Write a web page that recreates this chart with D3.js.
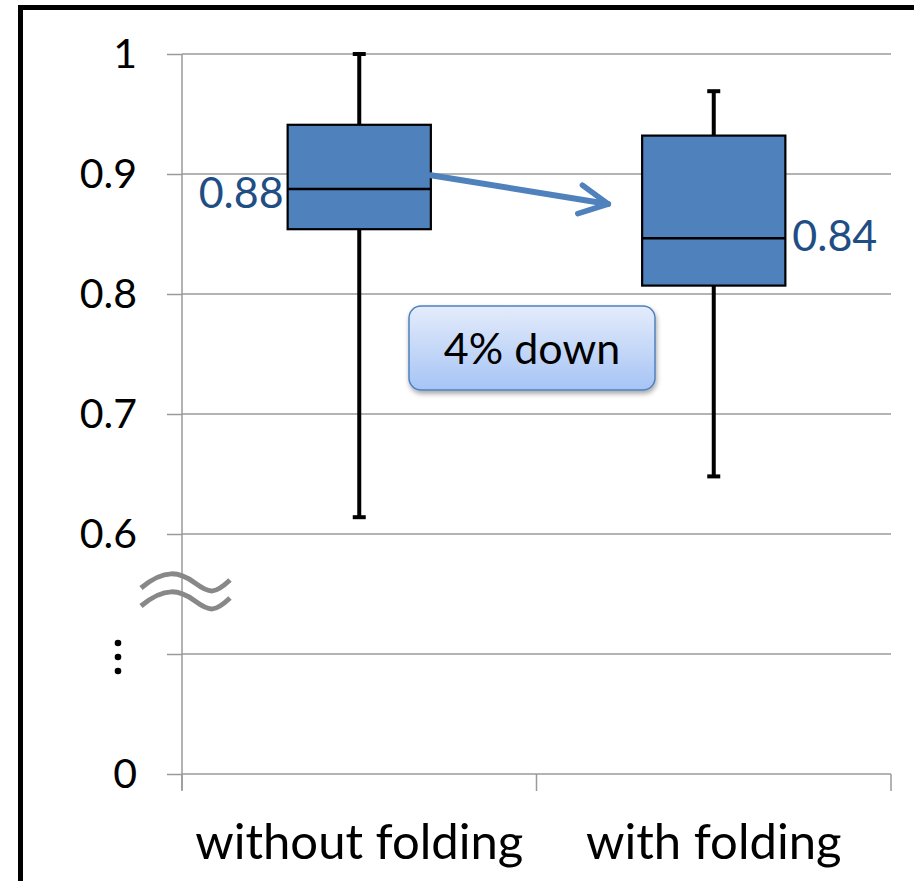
<!DOCTYPE html>
<html><head><meta charset="utf-8">
<script src="https://cdn.jsdelivr.net/npm/d3@7"></script>
<style>
html,body{margin:0;padding:0;background:#fff;}
svg{display:block;font-family:Lato,"Open Sans",sans-serif;}
</style></head>
<body>
<svg id="chart" width="914" height="881"></svg>
<script>
// ---- data ----
const categories = ["without folding", "with folding"];
const whiskerLow  = [0.614, 0.648];
const q1          = [0.854, 0.807];
const median      = [0.8875, 0.8465];
const q3          = [0.941, 0.932];
const whiskerHigh = [1.0, 0.969];
const medianLabels = ["0.88", "0.84"];
const tickValues = [0.4, 0.5, 0.6, 0.7, 0.8, 0.9, 1.0];
const tickLabels = ["0", "", "0.6", "0.7", "0.8", "0.9", "1"];
const calloutText = "4% down";
const arrowFrom = 0.899, arrowTo = 0.875;

const svg = d3.select("#chart");
const blue = "#4f81bd", darkBlue = "#1f4e85";

// frame
svg.append("rect").attr("x", 20.5).attr("y", 7.5).attr("width", 930).attr("height", 900)
  .attr("fill", "#fff").attr("stroke", "#000").attr("stroke-width", 5);

const x = d3.scaleBand().domain(categories).range([182, 891]).padding(0);
const y = d3.scaleLinear().domain([0.4, 1.0]).range([774, 54]);

const defs = svg.append("defs");
const grad = defs.append("linearGradient").attr("id", "cg").attr("x1", 0).attr("y1", 0).attr("x2", 0).attr("y2", 1);
grad.append("stop").attr("offset", "0%").attr("stop-color", "#e4ecfb");
grad.append("stop").attr("offset", "100%").attr("stop-color", "#a6c4f5");
const filt = defs.append("filter").attr("id", "sh").attr("x", "-10%").attr("y", "-10%").attr("width", "130%").attr("height", "140%");
filt.append("feDropShadow").attr("dx", 1).attr("dy", 3).attr("stdDeviation", 2.5).attr("flood-color", "#000").attr("flood-opacity", 0.35);
defs.append("marker").attr("id", "ah").attr("viewBox", "0 0 10 10").attr("refX", 8.6).attr("refY", 5)
  .attr("markerWidth", 7.5).attr("markerHeight", 7.5).attr("markerUnits", "strokeWidth").attr("orient", "auto")
  .append("path").attr("d", "M2.3,1.8 L8.6,5 L2.3,8.2").attr("fill", "none").attr("stroke", blue)
  .attr("stroke-width", 1.25).attr("stroke-linecap", "round").attr("stroke-linejoin", "round");

// y axis labels
const yAxis = d3.axisLeft(y).tickValues(tickValues).tickSize(15).tickFormat((d, i) => tickLabels[i]);
const gy = svg.append("g").attr("transform", "translate(182,0)").call(yAxis);
gy.attr("font-size", null).attr("font-family", null);
gy.select(".domain").remove();
gy.selectAll(".tick line").attr("stroke", "#9a9a9a").attr("stroke-width", 1.5);
gy.selectAll(".tick text").attr("x", -45).attr("dy", "0.33em").style("font-size", "41px").attr("fill", "#000");
// gridlines
svg.append("g").selectAll("line").data(tickValues).join("line")
  .attr("x1", 182).attr("x2", 891).attr("y1", d => y(d)).attr("y2", d => y(d))
  .attr("stroke", "#9a9a9a").attr("stroke-width", 1.5);
svg.append("line").attr("x1", 182).attr("x2", 182).attr("y1", y(1.0)).attr("y2", y(0.4) + 16)
  .attr("stroke", "#9a9a9a").attr("stroke-width", 1.5);

// x axis ticks + labels
const xt = [182, ...categories.map(c => x(c) + x.bandwidth())];
svg.append("g").selectAll("line").data(xt).join("line")
  .attr("x1", d => d).attr("x2", d => d).attr("y1", y(0.4)).attr("y2", y(0.4) + 17)
  .attr("stroke", "#9a9a9a").attr("stroke-width", 1.5);
svg.append("g").selectAll("text").data(categories).join("text")
  .attr("x", d => x(d) + x.bandwidth() / 2).attr("y", 859).attr("text-anchor", "middle")
  .style("font-size", "49px").attr("fill", "#000").text(d => d);

// axis break symbol
const brk = svg.append("g").attr("fill", "none").attr("stroke", "#888").attr("stroke-width", 5);
[0, 18].forEach(o => {
  brk.append("path").attr("d", `M141,${588 + o} C165,${568 + o} 180,${572 + o} 195,${583 + o} S215,${594 + o} 230,${580 + o}`);
});
// vertical dots
svg.append("g").selectAll("circle").data([0, 1, 2]).join("circle")
  .attr("cx", 118).attr("cy", d => 643 + d * 14).attr("r", 3.3).attr("fill", "#000");

// boxes
const bw = x.bandwidth() * 0.404;
const g = svg.append("g");
categories.forEach((c, i) => {
  const cx = x(c) + x.bandwidth() / 2;
  g.append("line").attr("x1", cx).attr("x2", cx).attr("y1", y(whiskerHigh[i])).attr("y2", y(whiskerLow[i]))
    .attr("stroke", "#000").attr("stroke-width", 4);
  [whiskerHigh[i], whiskerLow[i]].forEach(v => {
    g.append("line").attr("x1", cx - 6.5).attr("x2", cx + 6.5).attr("y1", y(v)).attr("y2", y(v))
      .attr("stroke", "#000").attr("stroke-width", 4);
  });
  g.append("rect").attr("x", cx - bw / 2).attr("y", y(q3[i])).attr("width", bw).attr("height", y(q1[i]) - y(q3[i]))
    .attr("fill", blue).attr("stroke", "#000").attr("stroke-width", 2.2);
  g.append("line").attr("x1", cx - bw / 2).attr("x2", cx + bw / 2).attr("y1", y(median[i])).attr("y2", y(median[i]))
    .attr("stroke", "#000").attr("stroke-width", 2.5);
});

// median labels
const c0 = x(categories[0]) + x.bandwidth() / 2, c1 = x(categories[1]) + x.bandwidth() / 2;
svg.append("text").attr("x", c0 - bw / 2 - 4).attr("y", y(median[0]) + 19).attr("text-anchor", "end")
  .style("font-size", "43px").attr("fill", darkBlue).text(medianLabels[0]);
svg.append("text").attr("x", c1 + bw / 2 + 7).attr("y", y(median[1]) + 13).attr("text-anchor", "start")
  .style("font-size", "43px").attr("fill", darkBlue).text(medianLabels[1]);

// arrow
svg.append("line").attr("x1", c0 + bw / 2).attr("y1", y(arrowFrom)).attr("x2", c1 - bw / 2 - 34).attr("y2", y(arrowTo))
  .attr("stroke", blue).attr("stroke-width", 6).attr("stroke-linecap", "round").attr("marker-end", "url(#ah)");

// callout
const cb = svg.append("g");
cb.append("rect").attr("x", 409).attr("y", 306).attr("width", 246).attr("height", 84).attr("rx", 12)
  .attr("fill", "url(#cg)").attr("stroke", blue).attr("stroke-width", 1.5).attr("filter", "url(#sh)");
cb.append("text").attr("x", 532).attr("y", 364).attr("text-anchor", "middle").style("font-size", "43px")
  .attr("fill", "#000").text(calloutText);
</script>
</body></html>
